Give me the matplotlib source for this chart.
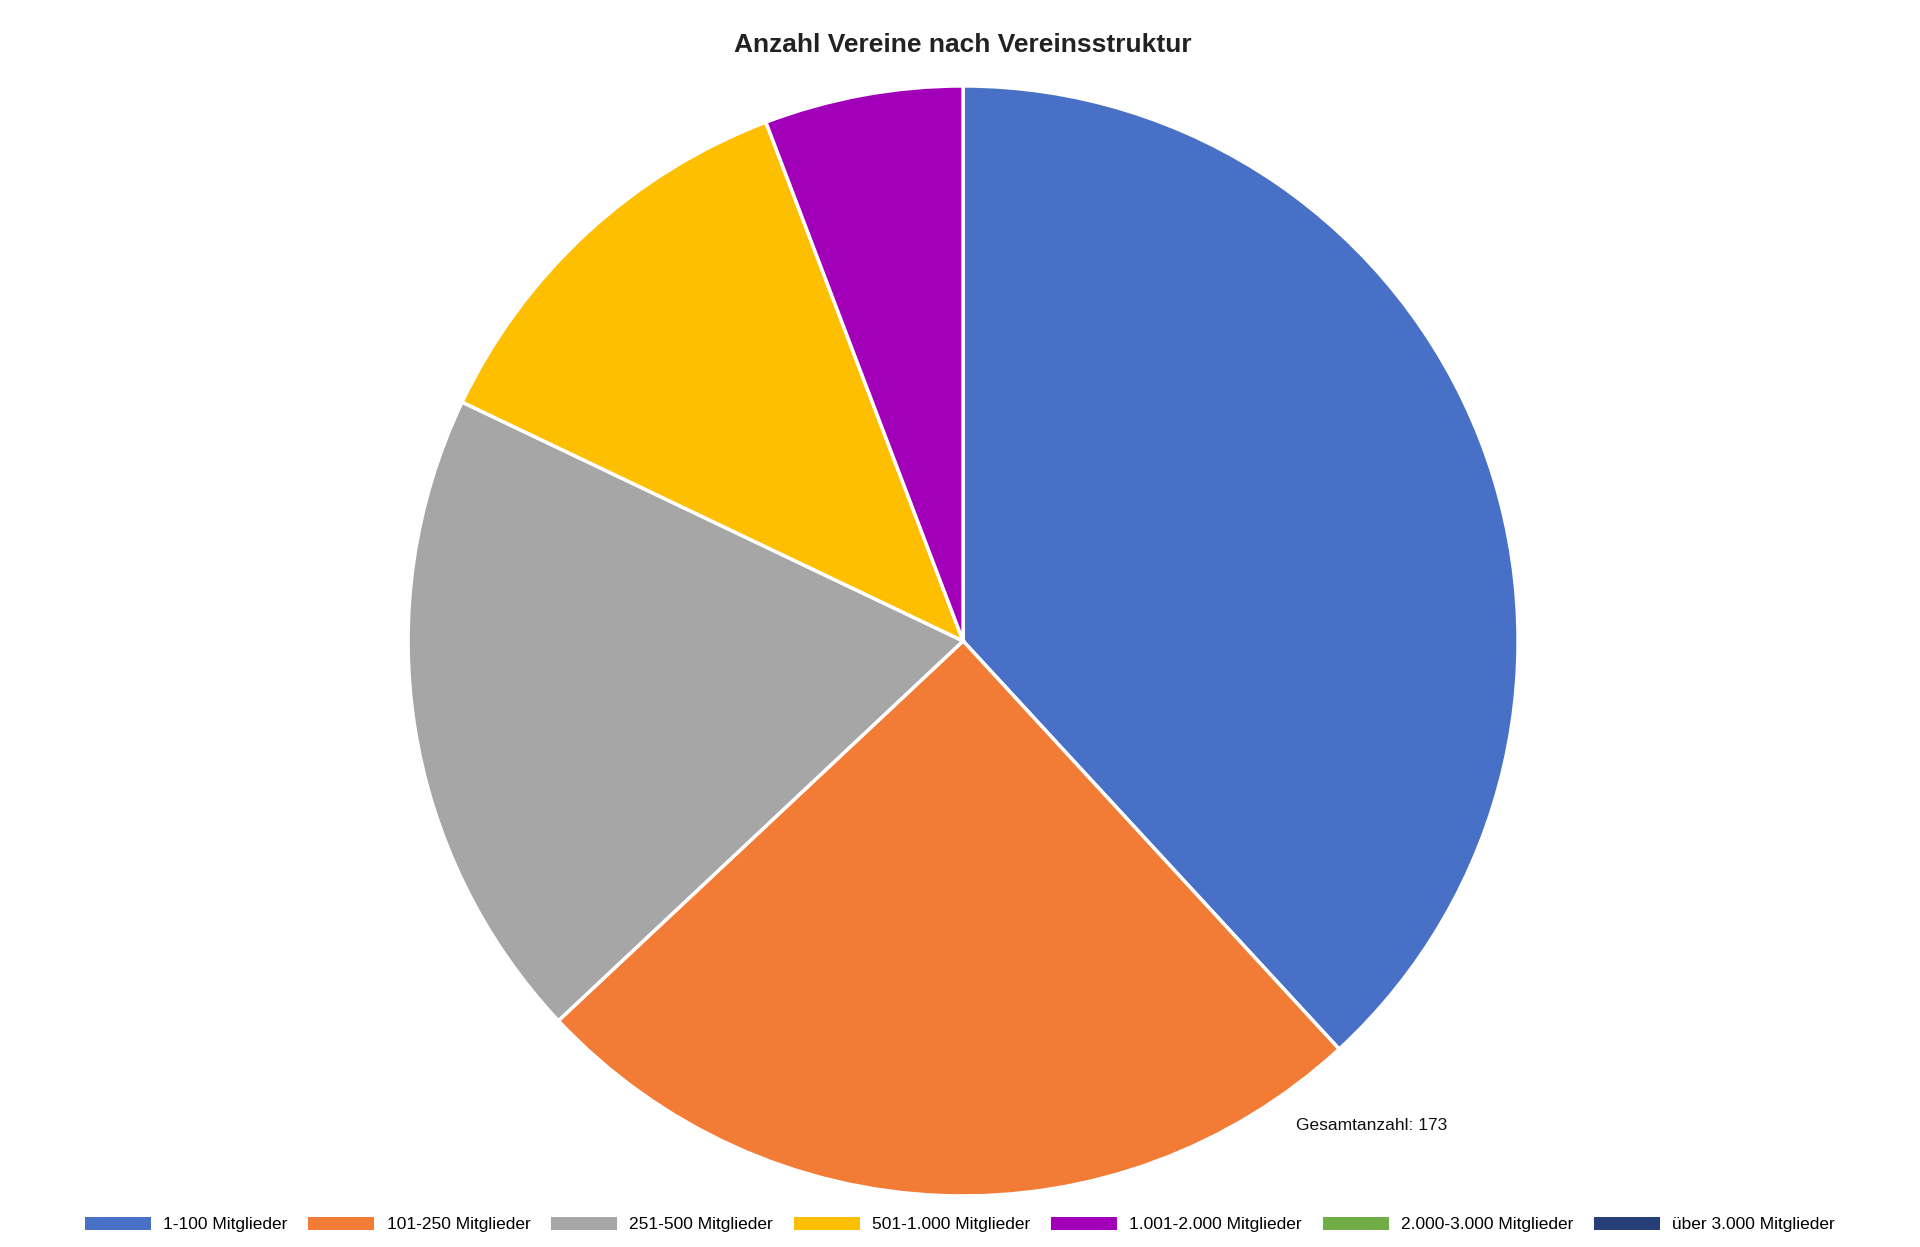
import matplotlib.pyplot as plt
from matplotlib.patches import Patch

labels = ['1-100 Mitglieder', '101-250 Mitglieder', '251-500 Mitglieder', '501-1.000 Mitglieder',
          '1.001-2.000 Mitglieder', '2.000-3.000 Mitglieder', 'über 3.000 Mitglieder']
values = [66, 43, 33, 21, 10, 0, 0]
colors = ['#4770C6', '#F27B35', '#A6A6A6', '#FDBF00', '#A100B8', '#70AD47', '#263F78']

plt.rcParams['font.family'] = ['Arial', 'Liberation Sans', 'DejaVu Sans']

fig = plt.figure(figsize=(19.2, 12.47), dpi=100)
cx, cy = 0.5016, 0.486
rw, rh = 555 / 1920, 555 / 1247
ax = fig.add_axes([cx - rw, cy - rh, 2 * rw, 2 * rh])

nz = [(v, c) for v, c in zip(values, colors) if v > 0]
ax.pie([v for v, _ in nz], colors=[c for _, c in nz], startangle=90, counterclock=False,
       wedgeprops=dict(edgecolor='white', linewidth=2.5))
ax.set_aspect('equal')
ax.set_xlim(-1, 1)
ax.set_ylim(-1, 1)

fig.text(0.5016, 0.964, 'Anzahl Vereine nach Vereinsstruktur', ha='center', va='center',
         fontsize=19, fontweight='bold', color='#222222')
fig.text(0.675, 0.0975, 'Gesamtanzahl: ' + str(sum(values)), ha='left', va='center',
         fontsize=12.5, color='#111111')

handles = [Patch(facecolor=c, label=l) for l, c in zip(labels, colors)]
fig.legend(handles=handles, loc='center', bbox_to_anchor=(0.5, 0.018), ncol=7, frameon=False,
           fontsize=12.5, handlelength=3.8, handleheight=0.8, columnspacing=1.2, handletextpad=0.7)

plt.savefig('out.png', dpi=100, facecolor='white')
